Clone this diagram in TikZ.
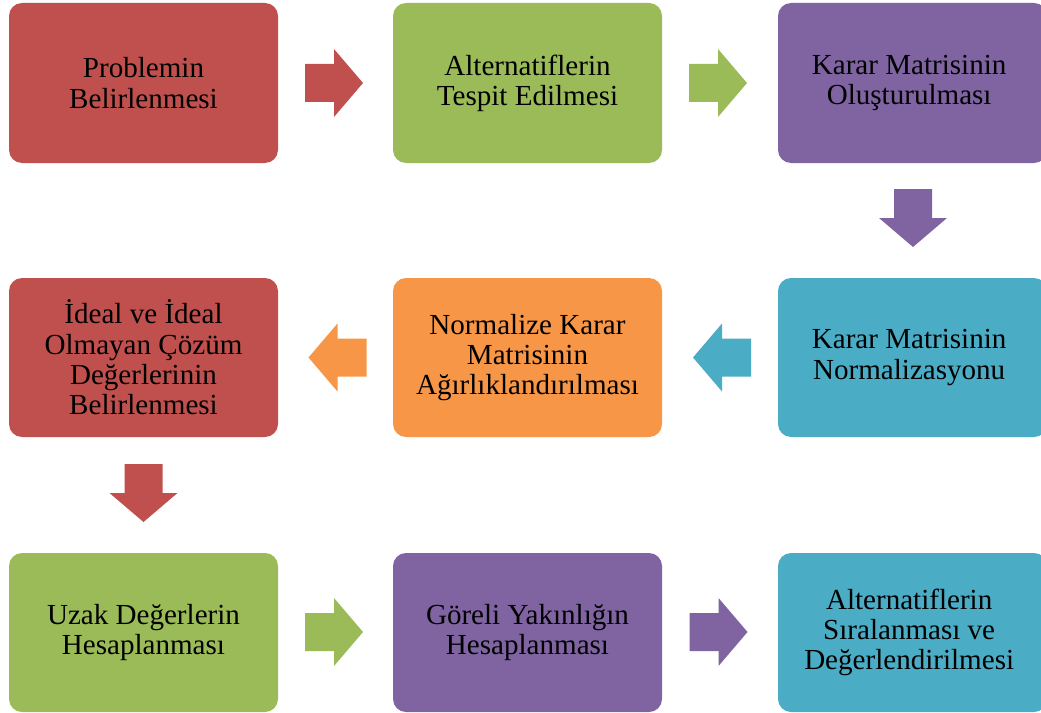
\documentclass[tikz,border=0pt]{standalone}
\usepackage{fontspec}
\setmainfont{Liberation Serif}
\definecolor{cred}{HTML}{C0504D}
\definecolor{cgreen}{HTML}{9BBB59}
\definecolor{cpurple}{HTML}{8064A2}
\definecolor{ccyan}{HTML}{4BACC6}
\definecolor{corange}{HTML}{F79646}
\tikzset{
  stepbox/.style={rounded corners=9.75pt, minimum width=201.75pt, minimum height=119.25pt,
    inner sep=0pt, align=center, text=black,
    font=\fontsize{21.8pt}{22.7pt}\selectfont},
  arrR/.pic={\path[pic actions] (-29,-19) -- (0,-19) -- (0,-34) -- (29,0) -- (0,34) -- (0,19) -- (-29,19) -- cycle;},
  arrL/.pic={\path[pic actions] (29,-19) -- (0,-19) -- (0,-34) -- (-29,0) -- (0,34) -- (0,19) -- (29,19) -- cycle;},
  arrD/.pic={\path[pic actions] (-19,-29) -- (-19,0) -- (-34,0) -- (0,29) -- (34,0) -- (19,0) -- (19,-29) -- cycle;},
}
\begin{document}
\begin{tikzpicture}[x=0.75pt,y=-0.75pt]
\useasboundingbox (0,0) rectangle (1041,713);
\clip (0,0) rectangle (1041,713);
% row 1
\node[stepbox, fill=cred, minimum height=120pt] (b1) at (143.5,83) {Problemin\\Belirlenmesi};
\node[stepbox, fill=cgreen, minimum height=120pt] (b2) at (527.5,83) {Alternatiflerin\\Tespit Edilmesi};
\node[stepbox, fill=cpurple, minimum height=120pt] (b3) at (912.5,83) {\hspace*{-5pt}Karar Matrisinin\\\hspace*{-5pt}Oluşturulması};
% row 2
\node[stepbox, fill=ccyan] (b4) at (912.5,357.5) {\hspace*{-5pt}Karar Matrisinin\\\hspace*{-5pt}Normalizasyonu};
\node[stepbox, fill=corange] (b5) at (527.5,357.5) {Normalize Karar\\Matrisinin\\Ağırlıklandırılması};
\node[stepbox, fill=cred] (b6) at (143.5,357.5) {İdeal ve İdeal\\Olmayan Çözüm\\Değerlerinin\\Belirlenmesi};
% row 3
\node[stepbox, fill=cgreen] (b7) at (143.5,632.5) {Uzak Değerlerin\\Hesaplanması};
\node[stepbox, fill=cpurple] (b8) at (527.5,632.5) {Göreli Yakınlığın\\Hesaplanması};
\node[stepbox, fill=ccyan] (b9) at (912.5,632.5) {\hspace*{-5pt}Alternatiflerin\\\hspace*{-5pt}Sıralanması ve\\\hspace*{-5pt}Değerlendirilmesi};
% arrows
\coordinate (a12) at (334,83);
\coordinate (a23) at (718,83);
\coordinate (a34) at (913,218);
\coordinate (a45) at (722,357.5);
\coordinate (a56) at (337.5,357.5);
\coordinate (a67) at (143.5,493);
\coordinate (a78) at (334,632);
\coordinate (a89) at (718.5,632);
\pic[fill=cred] at (a12) {arrR};
\pic[fill=cgreen] at (a23) {arrR};
\pic[fill=cpurple] at (a34) {arrD};
\pic[fill=ccyan] at (a45) {arrL};
\pic[fill=corange] at (a56) {arrL};
\pic[fill=cred] at (a67) {arrD};
\pic[fill=cgreen] at (a78) {arrR};
\pic[fill=cpurple] at (a89) {arrR};
\end{tikzpicture}
\end{document}
